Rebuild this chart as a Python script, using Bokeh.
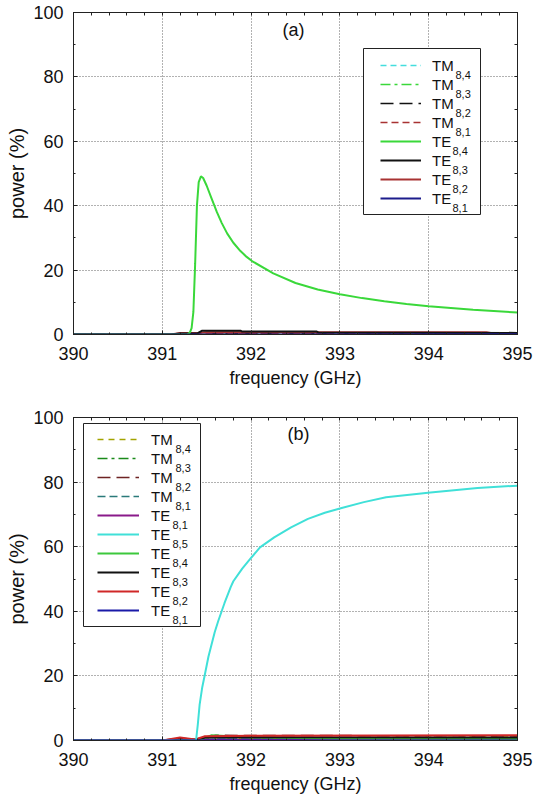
from bokeh.plotting import figure
from bokeh.layouts import column
from bokeh.models import (Range1d, FixedTicker, LinearAxis, Legend, LegendItem,
                          Label, BoxAnnotation)
from bokeh.embed import file_html
from bokeh.resources import INLINE

FONT = "Liberation Sans"

# ---------------- axes ----------------
x_ticks = [390, 391, 392, 393, 394, 395]
y_ticks = [0, 20, 40, 60, 80, 100]
x_minor = [390 + 0.2 * i for i in range(26)]
y_minor = [10 * i for i in range(11)]
x_title = "frequency (GHz)"
y_title = "power (%)"

# ---------------- panel (a) data ----------------
a_te84_f = [390, 391.0, 391.28, 391.31, 391.33, 391.35, 391.37, 391.39, 391.41, 391.435,
            391.46, 391.50, 391.55, 391.615, 391.67, 391.73, 391.80, 391.88, 391.95, 392.01,
            392.25, 392.5, 392.75, 393.0, 393.25, 393.5, 393.75, 394.0, 394.5, 395.0]
a_te84_p = [0, 0, 0, 0.6, 2.0, 7.0, 22.0, 40.0, 47.3, 49.1,
            48.6, 46.2, 42.6, 38.0, 34.6, 31.4, 28.5, 25.9, 24.1, 22.8,
            19.0, 16.0, 14.0, 12.5, 11.3, 10.3, 9.5, 8.8, 7.7, 6.8]
a_te83_f = [390, 391.1, 391.2, 391.4, 391.45, 391.88, 391.9, 392.74, 392.76, 395]
a_te83_p = [0, 0, 0.3, 0.4, 1.2, 1.2, 0.9, 0.9, 0.6, 0.5]
a_te82_f = [390, 391.1, 391.2, 391.4, 391.5, 394.65, 394.7, 395]
a_te82_p = [0, 0, 0.5, 0.5, 0.7, 0.7, 0.5, 0.5]
a_te81_f = [390, 395]
a_te81_p = [0, 0.05]
a_tm81_f = [390, 391.3, 391.5, 395]
a_tm81_p = [0, 0, 0.4, 0.4]
a_tm82_f = [390, 391.3, 391.5, 395]
a_tm82_p = [0, 0, 0.2, 0.2]
a_tm83_f = [390, 391.4, 391.6, 395]
a_tm83_p = [0, 0, 0.1, 0.1]
a_tm84_f = [390, 395]
a_tm84_p = [0, 0]

# ---------------- panel (b) data ----------------
b_te85_f = [390, 391.0, 391.38, 391.40, 391.42, 391.45, 391.48, 391.52, 391.59, 391.63,
            391.70, 391.77, 391.80, 391.90, 391.99, 392.10, 392.26, 392.45, 392.64, 392.83,
            393.02, 393.27, 393.52, 394.02, 394.55, 395.0]
b_te85_p = [0, 0, 0, 5.0, 11.0, 16.5, 20.5, 26.0, 33.5, 37.0,
            42.5, 47.5, 49.3, 53.2, 56.2, 59.8, 62.9, 66.0, 68.6, 70.5,
            72.0, 73.8, 75.3, 76.8, 78.2, 78.9]
b_te82_f = [390, 391.0, 391.2, 391.37, 391.48, 392.0, 395]
b_te82_p = [0, 0, 0.9, 0.3, 1.3, 1.5, 1.6]
b_tm82_f = [390, 391.4, 391.6, 395]
b_tm82_p = [0, 0, 1.6, 1.4]
b_te83_f = [390, 391.0, 391.2, 391.37, 391.5, 395]
b_te83_p = [0, 0, 0.6, 0.3, 1.0, 0.9]
b_te84_f = [390, 391.4, 391.55, 392.0, 392.7, 393.0, 395]
b_te84_p = [0, 0, 1.6, 1.0, 0.7, 0.6, 0.5]
b_tm81_f = [390, 391.4, 391.6, 395]
b_tm81_p = [0, 0, 0.6, 0.5]
b_tm83_f = [390, 391.4, 391.6, 395]
b_tm83_p = [0, 0, 0.8, 0.7]
b_tm84_f = [390, 391.4, 391.6, 393.8, 395]
b_tm84_p = [0, 0, 0.6, 1.0, 1.1]
b_te81p_f = [390, 391.3, 391.5, 395]
b_te81p_p = [0, 0, 0.2, 0.2]
b_te81_f = [390, 395]
b_te81_p = [0, 0]


def make_fig(h, bl, br, bt, bb):
    p = figure(width=534, height=h, x_range=Range1d(390, 395), y_range=Range1d(0, 100),
               output_backend="svg", toolbar_location=None,
               min_border_left=bl, min_border_right=br, min_border_top=bt,
               min_border_bottom=bb, x_axis_label=x_title, y_axis_label=y_title)
    p.background_fill_color = "white"
    p.border_fill_color = "white"
    p.outline_line_color = "#222222"
    p.outline_line_width = 1
    p.xaxis.ticker = FixedTicker(ticks=x_ticks, minor_ticks=x_minor)
    p.yaxis.ticker = FixedTicker(ticks=y_ticks, minor_ticks=y_minor)
    for ax in (p.xaxis[0], p.yaxis[0]):
        ax.axis_line_color = "#222222"
        ax.major_tick_in = 4
        ax.major_tick_out = 0
        ax.minor_tick_in = 2
        ax.minor_tick_out = 0
        ax.major_tick_line_color = "#222222"
        ax.minor_tick_line_color = "#222222"
        ax.major_label_text_font = FONT
        ax.major_label_text_font_size = "18px"
        ax.major_label_text_color = "#111111"
        ax.axis_label_text_font = FONT
        ax.axis_label_text_font_size = "18px"
        ax.axis_label_text_font_style = "normal"
        ax.axis_label_text_color = "#111111"
    p.yaxis.axis_label_text_font_size = "20px"
    p.yaxis.major_label_standoff = 10
    p.yaxis.axis_label_standoff = 2
    p.xaxis.major_label_standoff = 12
    p.xaxis.axis_label_standoff = 5
    # top and right: tick marks only (no major ticks -> no labels)
    top = LinearAxis(ticker=FixedTicker(ticks=[], minor_ticks=x_minor),
                     minor_tick_in=3, minor_tick_out=0, axis_line_color="#222222",
                     minor_tick_line_color="#222222")
    right = LinearAxis(ticker=FixedTicker(ticks=[], minor_ticks=y_minor),
                       minor_tick_in=3, minor_tick_out=0, axis_line_color="#222222",
                       minor_tick_line_color="#222222")
    p.add_layout(top, "above")
    p.add_layout(right, "right")
    p.grid.grid_line_color = "#555555"
    p.grid.grid_line_dash = "1 2"
    p.grid.grid_line_alpha = 0.9
    return p


def add_legend(p, renderers, kinds, subs, lx, ly, gw, standoff, box, sub_x):
    n = len(renderers)
    pitch = 19
    bx = BoxAnnotation(left=box[0], right=box[1], bottom=box[2], top=box[3],
                       left_units="screen", right_units="screen",
                       bottom_units="screen", top_units="screen",
                       fill_color="white", fill_alpha=1.0,
                       line_color="#222222", line_width=1, line_alpha=1.0)
    p.add_layout(bx)
    items = [LegendItem(label=k, renderers=[r]) for k, r in zip(kinds, renderers)]
    leg = Legend(items=items, location=(lx, ly), padding=0, spacing=1, margin=0,
                 glyph_width=gw, glyph_height=18, label_height=18, label_width=20,
                 label_standoff=standoff, label_text_font=FONT,
                 label_text_font_size="15px", label_text_color="#111111",
                 border_line_alpha=0, background_fill_alpha=0)
    p.add_layout(leg)
    for i, (k, s) in enumerate(zip(kinds, subs)):
        cy = ly + (n - 1 - i) * pitch + 9
        p.add_layout(Label(x=sub_x[k], y=cy - 9, x_units="screen", y_units="screen",
                           text=s, text_font=FONT, text_font_size="11px",
                           text_color="#111111", text_baseline="middle",
                           text_align="left"))


# ---------------- panel (a) ----------------
pa = make_fig(400, 73, 16, 12, 66)
r_a_tm84 = pa.line(a_tm84_f, a_tm84_p, line_color="#44dddd", line_dash="6 4", line_width=1.5)
r_a_tm83 = pa.line(a_tm83_f, a_tm83_p, line_color="#3ad83a", line_dash="10 4 3 4", line_width=1.5)
r_a_tm82 = pa.line(a_tm82_f, a_tm82_p, line_color="#111111", line_dash="13 6", line_width=1.5)
r_a_tm81 = pa.line(a_tm81_f, a_tm81_p, line_color="#a83232", line_dash="7 4", line_width=1.5)
r_a_te82 = pa.line(a_te82_f, a_te82_p, line_color="#a83232", line_width=2)
r_a_te83 = pa.line(a_te83_f, a_te83_p, line_color="#111111", line_width=2)
r_a_te84 = pa.line(a_te84_f, a_te84_p, line_color="#3ad83a", line_width=2)
r_a_te81 = pa.line(a_te81_f, a_te81_p, line_color="#1c1c8c", line_width=2)

add_legend(pa,
           [r_a_tm84, r_a_tm83, r_a_tm82, r_a_tm81, r_a_te84, r_a_te83, r_a_te82, r_a_te81],
           ["TM", "TM", "TM", "TM", "TE", "TE", "TE", "TE"],
           ["8,4", "8,3", "8,2", "8,1", "8,4", "8,3", "8,2", "8,1"],
           307, 127, 41, 11, (290, 407, 120, 286), {"TM": 382, "TE": 379})
pa.add_layout(Label(x=220, y=305, x_units="screen", y_units="screen", text="(a)",
                    text_font=FONT, text_font_size="18px", text_color="#111111",
                    text_align="center", text_baseline="middle"))

# ---------------- panel (b) ----------------
pb = make_fig(400, 72, 17, 17, 60)
r_b_tm84 = pb.line(b_tm84_f, b_tm84_p, line_color="#a3a300", line_dash="6 5", line_width=1.5)
r_b_tm83 = pb.line(b_tm83_f, b_tm83_p, line_color="#1a8a1a", line_dash="10 4 3 4", line_width=1.5)
r_b_tm82 = pb.line(b_tm82_f, b_tm82_p, line_color="#6e2323", line_dash="13 6", line_width=1.5)
r_b_tm81 = pb.line(b_tm81_f, b_tm81_p, line_color="#2a7a7a", line_dash="8 4", line_width=1.5)
r_b_te81p = pb.line(b_te81p_f, b_te81p_p, line_color="#8a1a8a", line_width=2)
r_b_te84 = pb.line(b_te84_f, b_te84_p, line_color="#3cc83c", line_width=2)
r_b_te83 = pb.line(b_te83_f, b_te83_p, line_color="#111111", line_width=2)
r_b_te82 = pb.line(b_te82_f, b_te82_p, line_color="#d02828", line_width=2)
r_b_te85 = pb.line(b_te85_f, b_te85_p, line_color="#40e0d8", line_width=2)
r_b_te81 = pb.line(b_te81_f, b_te81_p, line_color="#1a1aa8", line_width=2)

add_legend(pb,
           [r_b_tm84, r_b_tm83, r_b_tm82, r_b_tm81, r_b_te81p, r_b_te85, r_b_te84,
            r_b_te83, r_b_te82, r_b_te81],
           ["TM", "TM", "TM", "TM", "TE", "TE", "TE", "TE", "TE", "TE"],
           ["8,4", "8,3", "8,2", "8,1", "8,1", "8,5", "8,4", "8,3", "8,2", "8,1"],
           24, 121, 42, 12, (10, 127, 114, 317), {"TM": 102, "TE": 99})
pb.add_layout(Label(x=225, y=307, x_units="screen", y_units="screen", text="(b)",
                    text_font=FONT, text_font_size="18px", text_color="#111111",
                    text_align="center", text_baseline="middle"))

layout = column(pa, pb, spacing=0)
open("out.html", "w").write(file_html(layout, INLINE))
